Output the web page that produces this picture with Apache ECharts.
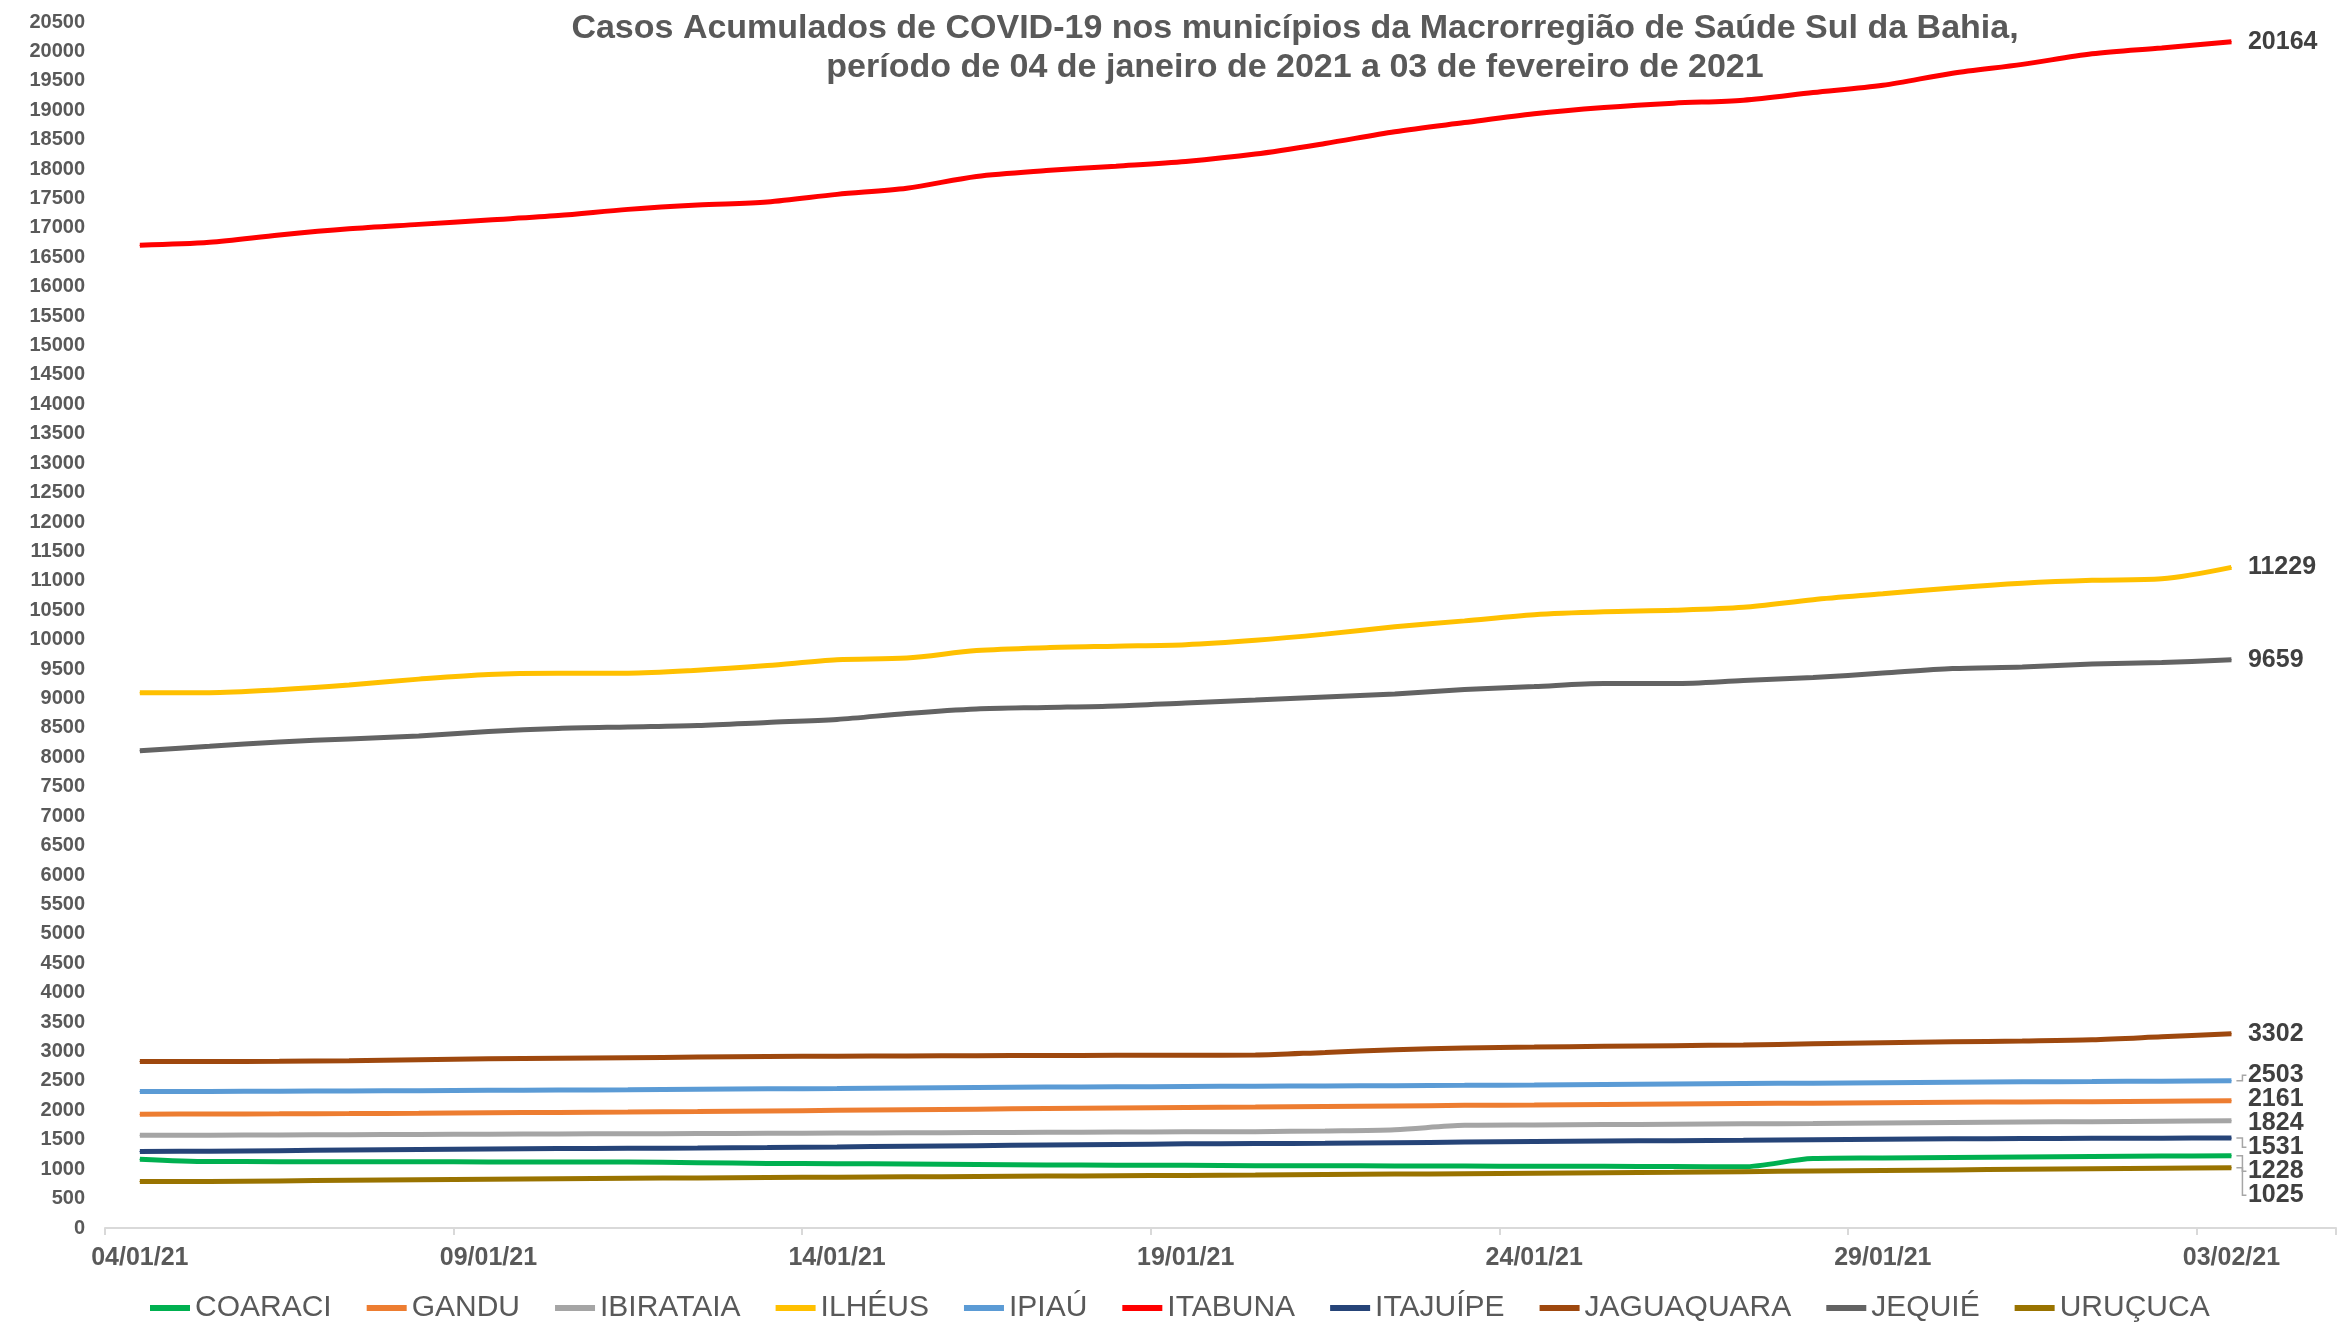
<!DOCTYPE html>
<html>
<head>
<meta charset="utf-8">
<script src="https://cdn.jsdelivr.net/npm/echarts@6/dist/echarts.min.js"></script>
<style>
html,body{margin:0;padding:0;background:#fff;}
#chart{width:2346px;height:1326px;}
</style>
</head>
<body>
<div id="chart"></div>
<script>
const dates = ['04/01/21','05/01/21','06/01/21','07/01/21','08/01/21','09/01/21','10/01/21','11/01/21','12/01/21','13/01/21',
  '14/01/21','15/01/21','16/01/21','17/01/21','18/01/21','19/01/21','20/01/21','21/01/21','22/01/21','23/01/21',
  '24/01/21','25/01/21','26/01/21','27/01/21','28/01/21','29/01/21','30/01/21','31/01/21','01/02/21','02/02/21',
  '03/02/21','04/02/21'];

const coaraci    = [1170,1130,1128,1127,1125,1124,1122,1120,1110,1098,1092,1088,1080,1072,1068,1065,1060,1058,1055,1052,1050,1048,1045,1040,1180,1190,1200,1208,1215,1222,1228];
const gandu      = [1935,1937,1940,1945,1952,1960,1965,1972,1980,1990,2000,2010,2020,2030,2040,2050,2055,2065,2075,2085,2092,2100,2108,2115,2122,2130,2137,2143,2148,2155,2161];
const ibirataia  = [1575,1578,1582,1586,1590,1594,1598,1602,1606,1610,1614,1618,1622,1626,1630,1634,1638,1650,1670,1745,1752,1758,1764,1770,1776,1784,1792,1800,1808,1816,1824];
const ilheus     = [9100,9100,9150,9230,9330,9410,9430,9430,9480,9560,9660,9690,9815,9865,9890,9915,9990,10095,10220,10320,10425,10475,10500,10550,10680,10780,10880,10960,11010,11035,11229];
const ipiau      = [2320,2322,2325,2330,2335,2340,2345,2350,2358,2365,2372,2380,2388,2395,2400,2405,2410,2415,2420,2425,2432,2440,2448,2455,2462,2470,2478,2485,2490,2496,2503];
const itabuna    = [16705,16755,16880,16985,17060,17135,17210,17315,17390,17440,17570,17675,17875,17975,18050,18130,18255,18435,18635,18790,18940,19045,19120,19170,19300,19425,19630,19780,19960,20060,20164];
const itajuipe   = [1300,1305,1315,1325,1335,1343,1350,1355,1360,1368,1378,1390,1400,1410,1420,1430,1435,1440,1450,1460,1470,1478,1485,1490,1500,1508,1515,1520,1524,1527,1531];
const jaguaquara = [2830,2830,2835,2845,2860,2875,2885,2895,2905,2915,2920,2925,2930,2932,2935,2938,2940,2985,3030,3060,3075,3090,3100,3110,3130,3150,3165,3180,3200,3250,3302];
const jequie     = [8111,8187,8263,8314,8365,8441,8492,8518,8543,8594,8645,8747,8823,8848,8874,8925,8975,9026,9077,9153,9204,9255,9255,9306,9357,9433,9509,9535,9585,9611,9659];
const urucuca    = [790,790,800,812,822,830,838,845,852,858,864,870,876,882,888,894,900,908,916,924,932,940,948,958,968,978,988,998,1008,1016,1025];

const seriesDefs = [
  {name:'COARACI',    data:coaraci,    color:'#00b050'},
  {name:'GANDU',      data:gandu,      color:'#ed7d31'},
  {name:'IBIRATAIA',  data:ibirataia,  color:'#a5a5a5'},
  {name:'ILHÉUS',     data:ilheus,     color:'#ffc000'},
  {name:'IPIAÚ',      data:ipiau,      color:'#5b9bd5'},
  {name:'ITABUNA',    data:itabuna,    color:'#ff0000'},
  {name:'ITAJUÍPE',   data:itajuipe,   color:'#264478'},
  {name:'JAGUAQUARA', data:jaguaquara, color:'#9e480e'},
  {name:'JEQUIÉ',     data:jequie,     color:'#636363'},
  {name:'URUÇUCA',    data:urucuca,    color:'#997300'}
];

const FONT = '"Liberation Sans", Arial, sans-serif';
const LABEL_GAP = 24;
const CLUSTER_BIAS = 8;

function buildData(values, dy) {
  return values.map((v, i) => i === values.length - 1
    ? {value: v, label: {show: true, offset: [0, dy || 0]}}
    : v);
}

const series = seriesDefs.map(s => ({
  name: s.name,
  type: 'line',
  smooth: 0.3,
  symbol: 'circle',
  symbolSize: 1,
  showSymbol: true,
  showAllSymbol: true,
  lineStyle: {width: 5, color: s.color},
  itemStyle: {color: s.color},
  emphasis: {disabled: true},
  label: {
    show: false, position: 'right', distance: 16,
    fontSize: 25, fontWeight: 'bold', color: '#404040',
    fontFamily: FONT, lineHeight: 24
  },
  data: buildData(s.data, 0)
}));

const chart = echarts.init(document.getElementById('chart'));
chart.setOption({
  animation: false,
  backgroundColor: '#ffffff',
  color: seriesDefs.map(s => s.color),
  title: {
    text: 'Casos Acumulados de COVID-19 nos municípios da Macrorregião de Saúde Sul da Bahia,\nperíodo de 04 de janeiro de 2021 a 03 de fevereiro de 2021',
    left: 1290, top: 4, textAlign: 'center',
    textStyle: {fontSize: 34, fontWeight: 'bold', color: '#595959', fontFamily: FONT, lineHeight: 39}
  },
  legend: {
    left: 145, top: 1288,
    icon: 'rect', itemWidth: 40, itemHeight: 6, itemGap: 35,
    textStyle: {fontSize: 30, color: '#595959', fontFamily: FONT},
    data: seriesDefs.map(s => s.name)
  },
  grid: {left: 105, right: 10, top: 22, bottom: 98, containLabel: false},
  xAxis: {
    type: 'category', boundaryGap: true, data: dates,
    axisLine: {lineStyle: {color: '#d9d9d9', width: 2}},
    axisTick: {show: true, interval: 4, length: 7, lineStyle: {color: '#d9d9d9', width: 2}},
    axisLabel: {interval: 4, margin: 18, fontSize: 25, fontWeight: 'bold', color: '#595959', fontFamily: FONT},
    splitLine: {show: false}
  },
  yAxis: {
    type: 'value', min: 0, max: 20500, interval: 500,
    axisLine: {show: false}, axisTick: {show: false}, splitLine: {show: false},
    axisLabel: {margin: 20, fontSize: 20, fontWeight: 'bold', color: '#595959', fontFamily: FONT,
      formatter: v => String(v)}
  },
  series: series
});

// Spread the end labels so they do not overlap (computed from the axis scale)
const ends = seriesDefs.map((s, k) => {
  const idx = s.data.length - 1;
  const p = chart.convertToPixel({seriesIndex: k}, [idx, s.data[idx]]);
  return {k: k, x: p[0], y: p[1], ly: p[1]};
});
const sorted = ends.slice().sort((a, b) => a.y - b.y);
let clusters = sorted.map(it => ({members: [it], center: it.y}));
let changed = true;
while (changed) {
  changed = false;
  for (let i = 0; i < clusters.length - 1; i++) {
    const a = clusters[i], b = clusters[i + 1];
    const aBottom = a.center + (a.members.length - 1) * LABEL_GAP / 2;
    const bTop = b.center - (b.members.length - 1) * LABEL_GAP / 2;
    if (bTop - aBottom < LABEL_GAP) {
      const members = a.members.concat(b.members);
      const center = members.reduce((t, m) => t + m.y, 0) / members.length;
      clusters.splice(i, 2, {members: members, center: center});
      changed = true;
      break;
    }
  }
}
clusters.forEach(c => {
  const bias = c.members.length > 1 ? CLUSTER_BIAS : 0;
  c.members.forEach((m, j) => {
    m.ly = c.center + bias + (j - (c.members.length - 1) / 2) * LABEL_GAP;
  });
});

const guides = [];
ends.forEach(e => {
  if (Math.abs(e.ly - e.y) > 3) {
    const x0 = e.x + 5, x1 = e.x + 11, x2 = e.x + 15;
    guides.push({
      type: 'polyline', silent: true, z: 10,
      shape: {points: [[x0, e.y], [x1, e.y], [x1, e.ly], [x2, e.ly]]},
      style: {stroke: '#a6a6a6', lineWidth: 1.5, fill: null}
    });
  }
});

chart.setOption({
  series: seriesDefs.map((s, k) => ({data: buildData(s.data, ends[k].ly - ends[k].y)})),
  graphic: guides
});
</script>
</body>
</html>
